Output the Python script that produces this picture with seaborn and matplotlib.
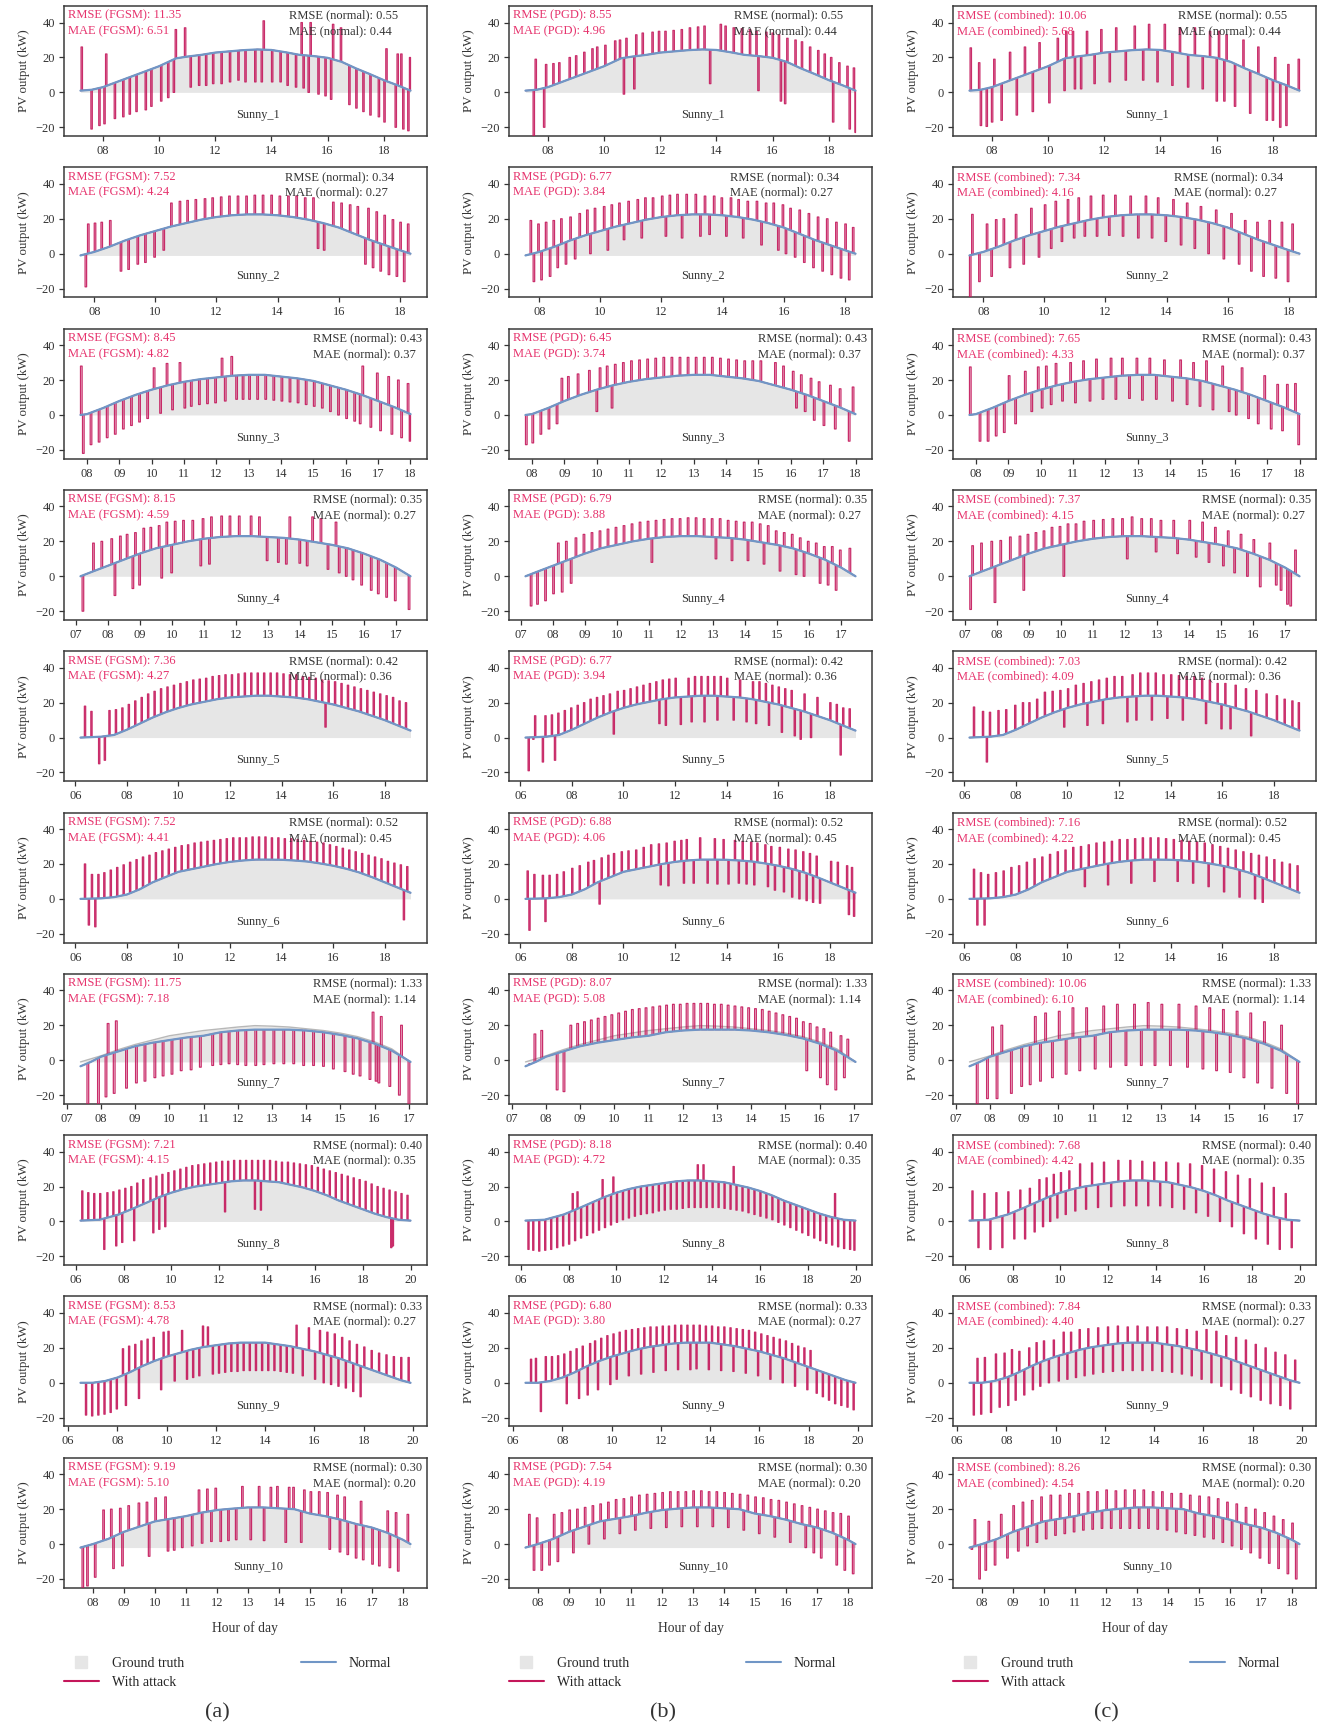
import numpy as np
import matplotlib
matplotlib.use("Agg")
import matplotlib.pyplot as plt
import seaborn as sns
from matplotlib.lines import Line2D

# ---------------- data ----------------
ROW_NAMES = ["Sunny_1", "Sunny_2", "Sunny_3", "Sunny_4", "Sunny_5",
             "Sunny_6", "Sunny_7", "Sunny_8", "Sunny_9", "Sunny_10"]
ATTACKS = ["FGSM", "PGD", "combined"]
CAPTIONS = ["(a)", "(b)", "(c)"]

RMSE_FGSM = [11.35, 7.52, 8.45, 8.15, 7.36, 7.52, 11.75, 7.21, 8.53, 9.19]
MAE_FGSM = [6.51, 4.24, 4.82, 4.59, 4.27, 4.41, 7.18, 4.15, 4.78, 5.10]
RMSE_PGD = [8.55, 6.77, 6.45, 6.79, 6.77, 6.88, 8.07, 8.18, 6.80, 7.54]
MAE_PGD = [4.96, 3.84, 3.74, 3.88, 3.94, 4.06, 5.08, 4.72, 3.80, 4.19]
RMSE_COMB = [10.06, 7.34, 7.65, 7.37, 7.03, 7.16, 10.06, 7.68, 7.84, 8.26]
MAE_COMB = [5.68, 4.16, 4.33, 4.15, 4.09, 4.22, 6.10, 4.42, 4.40, 4.54]
RMSE_NORMAL = [0.55, 0.34, 0.43, 0.35, 0.42, 0.52, 1.33, 0.40, 0.33, 0.30]
MAE_NORMAL = [0.44, 0.27, 0.37, 0.27, 0.36, 0.45, 1.14, 0.35, 0.27, 0.20]

TICKS = [[8, 10, 12, 14, 16, 18], [8, 10, 12, 14, 16, 18],
         list(range(8, 19)), list(range(7, 18)),
         [6, 8, 10, 12, 14, 16, 18], [6, 8, 10, 12, 14, 16, 18],
         list(range(7, 18)), [6, 8, 10, 12, 14, 16, 18, 20],
         [6, 8, 10, 12, 14, 16, 18, 20], list(range(8, 19))]

# normal-model prediction (hour, kW) per day
n1_t = [7.2, 7.6, 8.0, 8.5, 9.0, 9.5, 10.0, 10.6, 11.0, 11.5, 12.0, 12.5, 13.0, 13.5, 14.0, 14.5, 15.0, 15.5, 16.0, 16.5, 17.0, 17.5, 18.0, 18.5, 18.95]
n1_v = [1.0, 1.5, 3.0, 6.0, 9.0, 12.0, 15.0, 19.5, 20.5, 21.5, 22.8, 23.5, 24.2, 24.6, 24.3, 23.0, 21.5, 20.8, 19.8, 17.5, 13.8, 10.5, 7.0, 4.0, 1.0]
n2_t = [7.55, 8.0, 8.5, 9.0, 9.5, 10.0, 10.5, 11.0, 11.5, 12.0, 12.5, 13.0, 13.5, 14.0, 14.5, 15.0, 15.5, 16.0, 16.5, 17.0, 17.5, 18.0, 18.35]
n2_v = [-1.0, 1.0, 4.0, 7.5, 10.5, 13.0, 15.5, 17.5, 19.5, 21.0, 22.0, 22.5, 22.5, 22.0, 21.0, 19.5, 17.5, 15.0, 11.5, 8.0, 5.0, 2.0, 0.0]
n3_t = [7.8, 8.0, 8.5, 9.0, 9.5, 10.0, 10.5, 11.0, 11.5, 12.0, 12.5, 13.0, 13.5, 14.0, 14.5, 15.0, 15.5, 16.0, 16.5, 17.0, 17.5, 18.0]
n3_v = [0.0, 0.5, 4.0, 8.0, 11.5, 14.5, 17.0, 19.0, 20.5, 21.5, 22.5, 23.0, 23.0, 22.0, 21.0, 19.5, 17.0, 14.5, 11.5, 8.0, 4.5, 0.5]
n4_t = [7.15, 7.5, 8.0, 8.5, 9.0, 9.5, 10.0, 10.5, 11.0, 11.5, 12.0, 12.5, 13.0, 13.5, 14.0, 14.5, 15.0, 15.5, 16.0, 16.5, 17.0, 17.45]
n4_v = [0.0, 2.5, 6.0, 9.5, 13.0, 16.0, 18.0, 20.0, 21.5, 22.5, 23.0, 23.0, 22.5, 22.0, 21.0, 19.5, 18.0, 16.0, 13.0, 9.5, 5.0, 0.0]
n5_t = [6.2, 7.0, 7.5, 8.0, 8.5, 9.0, 9.5, 10.0, 10.5, 11.0, 11.5, 12.0, 12.5, 13.0, 13.5, 14.0, 14.5, 15.0, 15.5, 16.0, 16.5, 17.0, 17.5, 18.0, 18.5, 19.0]
n5_v = [0.0, 0.5, 1.5, 4.5, 8.0, 11.5, 14.5, 17.0, 19.0, 20.5, 22.0, 23.0, 23.5, 24.0, 24.0, 23.5, 23.0, 22.0, 20.5, 19.0, 17.0, 15.0, 12.5, 10.0, 7.0, 4.0]
n6_t = [6.2, 7.0, 7.5, 8.0, 8.5, 9.0, 9.5, 10.0, 10.5, 11.0, 11.5, 12.0, 12.5, 13.0, 13.5, 14.0, 14.5, 15.0, 15.5, 16.0, 16.5, 17.0, 17.5, 18.0, 18.5, 19.0]
n6_v = [0.0, 0.3, 1.0, 2.5, 5.5, 9.5, 12.5, 15.5, 17.0, 18.5, 20.0, 21.2, 22.0, 22.5, 22.5, 22.4, 22.0, 21.4, 20.3, 19.0, 17.3, 15.2, 12.5, 9.5, 6.5, 3.5]
n7_t = [7.4, 7.7, 8.0, 8.5, 9.0, 9.5, 10.0, 10.5, 11.0, 11.5, 12.0, 12.5, 13.0, 13.5, 14.0, 14.5, 15.0, 15.5, 16.0, 16.5, 16.8, 17.05]
n7_v = [-3.5, -1.0, 2.0, 5.0, 8.0, 10.0, 11.5, 13.0, 14.0, 16.0, 17.0, 17.5, 17.5, 17.5, 17.0, 16.0, 14.5, 12.5, 9.5, 5.5, 2.0, -1.0]
n8_t = [6.2, 7.0, 7.8, 8.5, 9.0, 9.5, 10.0, 10.5, 11.0, 11.5, 12.0, 12.5, 13.0, 13.5, 14.0, 14.5, 15.0, 15.5, 16.0, 16.5, 17.0, 17.5, 18.0, 18.5, 19.0, 19.5, 20.0]
n8_v = [0.5, 1.0, 4.0, 8.0, 11.0, 14.0, 16.5, 18.5, 20.0, 21.0, 22.0, 23.0, 23.5, 23.5, 23.0, 22.5, 21.0, 19.5, 17.5, 15.0, 12.0, 9.5, 7.0, 4.5, 2.5, 1.0, 0.5]
n9_t = [6.5, 7.0, 7.5, 8.0, 8.5, 9.0, 9.5, 10.0, 10.5, 11.0, 11.5, 12.0, 12.5, 13.0, 13.5, 14.0, 14.5, 15.0, 15.5, 16.0, 16.5, 17.0, 17.5, 18.0, 18.5, 19.0, 19.5, 19.9]
n9_v = [0.0, 0.0, 1.0, 3.0, 6.0, 9.5, 12.5, 15.0, 17.0, 19.0, 20.5, 21.5, 22.5, 23.0, 23.0, 23.0, 22.0, 21.0, 19.5, 18.0, 16.0, 14.0, 11.5, 9.0, 6.5, 4.0, 1.5, 0.0]
n10_t = [7.6, 8.0, 8.5, 9.0, 9.5, 10.0, 10.5, 11.0, 11.5, 12.0, 12.5, 13.0, 13.5, 14.0, 14.5, 15.0, 15.5, 16.0, 16.5, 17.0, 17.5, 18.0, 18.25]
n10_v = [-2.0, 0.0, 3.0, 7.0, 10.0, 13.0, 14.5, 16.0, 18.0, 19.5, 20.3, 21.0, 21.0, 20.5, 20.0, 17.5, 16.0, 14.0, 11.5, 9.5, 6.5, 2.5, 0.0]
# ground truth of Sunny_7 (visibly above the normal prediction)
g7_t = [7.4, 8.0, 8.5, 9.0, 9.5, 10.0, 10.5, 11.0, 11.5, 12.0, 12.5, 13.0, 13.5, 14.0, 14.5, 15.0, 15.5, 16.0, 16.5, 17.05]
g7_v = [-1.0, 2.5, 6.0, 9.0, 11.5, 14.0, 15.5, 17.0, 18.0, 19.0, 19.8, 19.5, 19.0, 18.0, 17.0, 15.5, 13.5, 10.5, 6.5, -1.0]

# attacked prediction: (hour, value reached by the short attack pulse)
a1 = [(7.22,26),(7.57,-21),(7.85,-19),(8.03,-18),(8.09,22),(8.4,-15),(8.7,-14),(8.93,-12.5),(9.17,-11),(9.5,-10),(9.7,-8),(10.05,-5),(10.3,-3),(10.5,0),(10.57,36),(10.9,37),(11.1,3),(11.4,4),(11.65,4),(11.9,5),(12.2,5),(12.5,6),(12.8,7),(13.05,6),(13.4,6),(13.63,6),(13.7,41),(14.0,6),(14.3,6),(14.55,4),(14.85,3),(15.05,40),(15.12,2.5),(15.3,0),(15.37,40),(15.65,-1),(15.9,-2),(16.1,-4),(16.17,39),(16.45,37),(16.75,-7),(17.0,-9),(17.25,-11),(17.5,-13),(17.8,-14),(18.0,-17),(18.07,25),(18.4,-20),(18.47,22),(18.6,22),(18.67,-21),(18.85,-22),(18.91,20)]
b1 = [(7.47,-25),(7.54,19),(7.84,-20),(7.91,16),(8.17,16.5),(8.38,17),(8.75,20),(8.98,21),(9.27,23),(9.56,25),(9.73,26),(10.02,27),(10.37,29.5),(10.54,30),(10.68,-1),(10.77,31),(11.05,2),(11.12,33),(11.35,34),(11.7,34.5),(11.93,35),(12.16,35),(12.45,35.5),(12.74,36),(13.03,37),(13.32,37.5),(13.55,38),(13.75,5),(14.13,39),(14.3,38),(14.59,37),(14.88,36.5),(15.17,36),(15.4,35),(15.47,1),(15.75,34.5),(15.98,34),(16.2,33),(16.27,-5),(16.42,-6.5),(16.5,31),(16.79,30),(17.02,29),(17.31,26),(17.6,24),(17.83,22),(18.06,20),(18.13,-17),(18.35,17),(18.64,15),(18.72,-21),(18.87,14),(18.93,-23)]
c1 = [(7.22,25.5),(7.52,17),(7.58,-19),(7.79,-19.5),(7.98,-17),(8.06,19),(8.32,-16),(8.62,23),(8.86,-13),(9.15,26),(9.43,-11),(9.67,28.5),(10.02,-6),(10.32,31),(10.56,1),(10.62,35),(10.86,35),(10.93,2),(11.15,2),(11.36,35),(11.63,5),(11.87,36),(12.17,6),(12.4,37),(12.74,7),(13.06,38),(13.36,7),(13.57,39),(13.87,6),(14.13,39),(14.4,4),(14.67,37),(14.96,3),(15.2,37),(15.48,2),(15.74,35),(15.98,-5),(16.06,35),(16.25,-5),(16.33,33),(16.63,-8),(16.93,30),(17.17,-12),(17.46,26),(17.76,-16),(17.98,-16),(18.06,20),(18.24,-20),(18.46,-19),(18.53,16),(18.9,19)]

a2 = [(7.7,-19),(7.78,17),(8.0,17.5),(8.22,18),(8.5,19),(8.85,-10),(9.1,-9),(9.4,-6),(9.65,-5),(9.95,-2),(10.25,2),(10.5,29),(10.78,30),(11.03,30.5),(11.3,31),(11.6,31.5),(11.85,32),(12.13,32.5),(12.4,33),(12.68,33),(12.96,33),(13.23,33.5),(13.5,33.5),(13.78,33.5),(14.05,33),(14.33,33),(14.6,33),(14.88,32),(15.15,32),(15.3,3),(15.5,2),(15.8,29.5),(16.07,29),(16.35,28),(16.6,27),(16.85,-6),(16.95,26),(17.1,-8),(17.22,24),(17.35,-10),(17.48,22),(17.62,-12),(17.75,19.5),(17.88,-13),(18.0,18),(18.12,-16),(18.25,17)]
b2 = [(7.7,19),(7.8,-16),(7.95,17),(8.05,-15),(8.2,18),(8.33,-13),(8.45,19),(8.58,-8),(8.7,20),(8.85,-6),(9.0,21),(9.15,-3),(9.3,23),(9.55,25),(9.65,0),(9.8,26),(10.1,27),(10.22,2),(10.35,28),(10.6,29),(10.75,8),(10.9,30),(11.2,31),(11.33,9),(11.45,32),(11.7,32),(12.0,33),(12.12,10),(12.25,33.5),(12.5,34),(12.65,9),(12.8,34),(13.1,34),(13.25,10),(13.4,33),(13.55,11),(13.7,33),(13.95,32),(14.1,10),(14.25,32),(14.5,31),(14.65,9),(14.8,30),(15.1,30),(15.25,5),(15.4,29),(15.65,29),(15.8,2),(15.95,28),(16.05,0),(16.2,26),(16.35,-2),(16.5,25),(16.65,-5),(16.8,23),(16.95,-8),(17.1,21),(17.25,-10),(17.4,20),(17.55,-12),(17.7,18),(17.85,-14),(18.0,17),(18.12,-15),(18.25,15)]
c2 = [(7.55,-25),(7.62,22.5),(7.85,-16),(8.1,17),(8.25,-13),(8.4,19.5),(8.65,20),(8.85,-8),(9.05,22.5),(9.3,-6),(9.55,26),(9.8,-2),(10.0,28),(10.2,3),(10.35,30),(10.55,7),(10.75,31),(10.95,9),(11.1,32),(11.3,10),(11.5,33),(11.7,10),(11.9,33.5),(12.1,10.5),(12.3,33.5),(12.55,10),(12.8,33),(13.05,9),(13.3,33),(13.5,9),(13.7,32),(13.95,7),(14.2,31),(14.45,5),(14.65,29),(14.9,3),(15.1,27),(15.35,0),(15.6,25),(15.85,-3),(16.1,23),(16.35,-6),(16.55,19),(16.75,-10),(16.95,18),(17.15,-13),(17.35,19),(17.55,-14),(17.75,18),(17.95,-16),(18.1,17)]

a3 = [(7.8,28),(7.86,-22),(8.1,-17),(8.35,-15.5),(8.6,-13),(8.85,-11),(9.1,-8),(9.35,-6),(9.6,-4),(9.85,-2),(10.05,27),(10.25,1),(10.45,29.5),(10.62,3),(10.85,30),(11.0,4),(11.2,5),(11.45,6),(11.7,6.5),(11.95,7),(12.15,32.5),(12.25,8),(12.45,33.5),(12.6,9),(12.8,9),(13.0,9),(13.25,9),(13.5,9),(13.75,8.5),(14.0,8),(14.25,7.5),(14.5,7),(14.75,6),(15.0,5),(15.25,4),(15.5,2),(15.75,0),(16.0,-2),(16.25,-3.5),(16.42,-5),(16.5,28),(16.75,-7),(16.95,24),(17.05,-9),(17.3,22),(17.4,-11),(17.6,20),(17.7,-13),(17.9,18),(17.96,-15)]
b3 = [(7.8,-17),(8.0,-16),(8.25,-11),(8.5,-8),(8.75,-5),(8.9,21),(9.1,22),(9.4,23.5),(9.75,25.5),(9.98,2),(10.08,27),(10.3,28),(10.45,4),(10.55,29),(10.8,30),(11.05,31),(11.3,31.5),(11.55,32),(11.8,32.5),(12.05,33),(12.3,33),(12.55,33),(12.8,33),(13.05,33),(13.3,33),(13.55,33),(13.8,32.5),(14.05,32),(14.3,31.5),(14.55,31),(14.8,31),(15.05,31),(15.5,30),(15.75,28),(16.05,25),(16.15,4),(16.3,23),(16.42,2),(16.6,21),(16.7,-3),(16.85,19),(17.0,-6),(17.2,17),(17.35,-8),(17.5,15),(17.78,-15),(17.9,16)]
c3 = [(7.8,27.5),(8.1,-15),(8.35,-15),(8.6,-12),(8.85,-10),(9.0,22.5),(9.2,-5),(9.5,25),(9.7,2),(9.9,27.5),(10.02,4),(10.15,28),(10.3,6),(10.45,29.5),(10.65,8),(10.9,30),(11.05,7),(11.3,31),(11.5,8),(11.7,32),(11.9,9),(12.15,32.5),(12.3,9),(12.5,32.5),(12.72,9.5),(12.95,32.5),(13.12,8.5),(13.35,32.5),(13.55,9),(13.8,31.5),(14.05,8),(14.3,31.5),(14.5,6),(14.7,30),(14.9,5),(15.1,31),(15.3,3),(15.6,28),(15.8,2),(16.02,0),(16.2,27),(16.4,-2),(16.7,-5),(16.9,22.5),(17.1,-8),(17.3,17.5),(17.45,-9),(17.6,17.5),(17.85,18),(17.95,-17)]

a4 = [(7.2,-20),(7.53,19),(7.79,20),(8.1,21.5),(8.2,-11),(8.37,23),(8.58,24),(8.76,-7),(8.84,25),(8.97,-5),(9.1,27.5),(9.32,28),(9.58,29),(9.66,-1),(9.82,31),(9.97,2),(10.08,31.5),(10.34,32),(10.63,32),(10.88,6),(10.95,33),(11.15,7),(11.21,34),(11.53,34.5),(11.79,34.5),(12.08,34.5),(12.45,34.5),(12.71,34),(12.95,9),(13.3,8),(13.55,7),(13.66,34),(13.97,7.5),(14.2,6),(14.37,34),(14.63,33),(14.85,4),(15.1,31),(15.2,2),(15.42,0),(15.63,-2),(15.9,-5),(16.2,-8),(16.42,-10),(16.68,-12),(16.95,-14),(17.38,-19)]
b4 = [(7.3,-17),(7.5,-16),(7.75,-14),(8.0,-10),(8.15,19),(8.27,-9),(8.4,20),(8.55,-4),(8.7,22),(8.95,24),(9.2,25),(9.45,26),(9.7,27),(9.95,28),(10.2,29),(10.45,30),(10.7,31),(10.95,31.5),(11.07,8),(11.2,32),(11.45,32.5),(11.7,33),(11.95,33),(12.2,33.5),(12.45,33.5),(12.7,33),(12.95,33),(13.07,10),(13.2,33),(13.45,32),(13.57,9),(13.7,31.5),(13.95,31),(14.07,9),(14.2,31),(14.45,30),(14.57,7),(14.7,29),(14.95,26),(15.07,3),(15.2,25),(15.45,24),(15.57,1),(15.7,22),(15.82,0),(15.95,20),(16.2,19),(16.32,-4),(16.45,17),(16.57,-5),(16.7,17),(16.82,-8),(16.95,15),(17.25,16)]
c4 = [(7.16,-19),(7.22,17.5),(7.5,19),(7.82,20),(7.92,-15),(8.1,20.5),(8.4,22.5),(8.7,23),(8.82,-8),(8.95,24),(9.2,25),(9.45,26),(9.7,28),(9.95,28.5),(10.07,0),(10.2,30),(10.45,30),(10.7,31.5),(11.0,32),(11.3,32.5),(11.6,33),(11.9,33),(12.05,10),(12.2,34),(12.5,33),(12.8,33),(12.95,14),(13.1,32),(13.5,32),(13.62,13),(14.0,32),(14.2,11),(14.4,31),(14.6,8),(14.8,28),(15.05,6),(15.2,26),(15.4,2),(15.6,24),(15.8,0),(16.0,21),(16.2,-6),(16.5,19),(16.7,-5),(16.85,-8),(17.05,-16),(17.15,-17),(17.3,15)]

a5 = [(6.35,18),(6.6,15),(6.9,-15),(7.12,-13),(7.3,15.5),(7.55,16),(7.8,17),(8.05,19),(8.3,21),(8.55,23),(8.8,25),(9.05,26.5),(9.3,28),(9.55,29),(9.8,30),(10.05,31),(10.3,32),(10.55,33),(10.8,33.5),(11.05,34),(11.3,35),(11.55,35.5),(11.8,36),(12.05,36),(12.3,36.5),(12.55,37),(12.8,37),(13.05,37),(13.3,37),(13.55,37),(13.8,37),(14.05,36.5),(14.3,36),(14.55,36),(14.8,35),(15.05,34.5),(15.3,34),(15.55,33),(15.68,6),(15.8,32.5),(16.05,32),(16.3,31),(16.55,30),(16.8,29),(17.05,28),(17.3,27),(17.55,26),(17.8,25),(18.05,24),(18.3,23),(18.55,21),(18.8,20)]
b5 = [(6.3,-19),(6.48,-1),(6.55,12.5),(6.85,-14),(6.95,12.5),(7.2,13),(7.32,-13),(7.45,14),(7.7,15.5),(7.95,17),(8.2,18.5),(8.45,20),(8.7,22),(8.95,23),(9.2,24),(9.45,25),(9.6,2),(9.75,26.5),(10.0,27),(10.25,28),(10.5,29),(10.75,30),(11.0,31),(11.25,32),(11.37,8),(11.5,33),(11.62,7),(11.75,33.5),(12.0,34),(12.2,7.5),(12.5,34),(12.62,9),(12.75,35),(13.0,35),(13.12,9),(13.25,35),(13.5,35),(13.62,10),(13.75,35),(14.0,34),(14.25,10),(14.5,33),(14.75,9),(15.0,32),(15.12,8),(15.25,32),(15.5,31),(15.62,7),(15.75,30),(16.0,29),(16.12,3),(16.25,28),(16.5,27),(16.62,1),(16.85,-1),(17.0,25),(17.25,0),(17.5,23),(18.0,20),(18.25,19),(18.4,-10),(18.5,17),(18.75,16.5)]
c5 = [(6.35,17.5),(6.7,15),(6.85,-14),(6.97,14.5),(7.3,15.5),(7.6,16),(7.95,18.5),(8.25,20),(8.5,20),(8.8,22),(9.1,26),(9.4,26.5),(9.7,27),(9.85,6),(10.0,28),(10.3,30),(10.6,31),(10.75,7),(10.9,32),(11.2,33),(11.35,8),(11.5,34),(11.8,35),(12.1,35),(12.3,9),(12.5,36),(12.65,10),(12.8,37),(13.1,37),(13.25,10),(13.4,37),(13.7,36),(13.85,11),(14.0,36),(14.3,35.5),(14.45,10),(14.6,35),(14.9,35),(15.2,34),(15.35,8),(15.5,33),(15.8,31),(15.95,5),(16.1,31),(16.3,5),(16.5,30),(16.9,28),(17.1,1),(17.3,27),(17.7,25),(18.1,24),(18.4,22),(18.7,21),(18.95,20)]

a6 = [(6.35,20),(6.5,-15),(6.62,14),(6.75,-16),(6.87,14),(7.1,15),(7.35,16.5),(7.6,18),(7.85,19.5),(8.1,21),(8.35,22.5),(8.6,24),(8.85,25),(9.1,26.5),(9.35,27.5),(9.6,28.5),(9.85,29.5),(10.1,30.5),(10.35,31),(10.6,32),(10.85,32.5),(11.1,33),(11.35,33.5),(11.6,34),(11.85,34.5),(12.1,35),(12.35,35),(12.6,35),(12.85,35.5),(13.1,35.5),(13.35,35.5),(13.6,35),(13.85,35),(14.1,34.5),(14.35,34.5),(14.6,34),(14.85,33.5),(15.1,33),(15.35,32.5),(15.6,32),(15.85,31),(16.1,30),(16.35,29),(16.6,28),(16.85,27),(17.1,26),(17.35,25),(17.6,24),(17.85,23),(18.1,21.5),(18.35,20.5),(18.6,19.5),(18.72,-12),(18.85,18.5)]
b6 = [(6.26,16),(6.33,-18),(6.52,14),(6.85,13.5),(6.95,-13),(7.11,13.5),(7.4,14),(7.66,15.5),(7.99,17.5),(8.28,19),(8.61,21),(8.83,22),(9.05,-3),(9.13,23.5),(9.39,25),(9.61,26),(9.91,27),(10.17,27.5),(10.47,28),(10.76,29.5),(11.05,31),(11.35,31.5),(11.42,8),(11.65,32),(11.72,7.5),(11.96,33),(12.22,33.5),(12.32,9),(12.43,34),(12.7,9),(12.95,35),(13.24,9),(13.52,34.5),(13.62,8.5),(13.86,34),(14.05,8.5),(14.3,33.5),(14.45,9),(14.6,33),(14.75,8.5),(14.93,32.5),(15.05,8),(15.17,32),(15.48,31),(15.58,7),(15.71,30),(15.85,5),(16.04,29.5),(16.2,4),(16.37,28.5),(16.52,1),(16.65,28),(16.8,0),(16.95,27),(17.08,-1),(17.21,26),(17.33,-2),(17.47,24.5),(17.6,-2.5),(18.03,21.5),(18.29,21),(18.65,19),(18.72,-9),(18.84,18),(18.92,-10)]
c6 = [(6.35,17),(6.48,-15),(6.62,15),(6.76,-15),(6.9,14),(7.2,15),(7.5,16),(7.8,18),(8.1,19),(8.4,21),(8.7,23),(9.0,24),(9.3,25.5),(9.6,27),(9.9,28),(10.2,29.5),(10.5,30),(10.65,7),(10.8,31),(11.1,32),(11.4,32.5),(11.55,8),(11.7,33),(12.0,34),(12.3,34),(12.45,9),(12.6,34.5),(12.9,35),(13.2,35),(13.35,10),(13.5,35),(13.8,34.5),(14.1,34),(14.25,10),(14.4,33.5),(14.7,33),(14.85,9),(15.0,32.5),(15.3,32),(15.45,7),(15.6,31),(15.9,30),(16.05,4),(16.2,29),(16.5,28),(16.65,1),(16.8,27),(17.1,26),(17.25,0),(17.4,25),(17.55,-2),(17.7,24),(18.0,22.5),(18.3,21),(18.6,20),(18.9,19)]

a7 = [(7.59,-26),(7.9,-26),(8.12,-21),(8.18,21),(8.36,-19),(8.42,22.5),(8.72,-16),(9.01,-13),(9.26,-12),(9.55,-10),(9.79,-9),(10.05,-8),(10.32,-6),(10.61,-5.5),(10.88,-4),(11.24,-3),(11.48,-2.5),(11.72,-2),(11.97,-2.5),(12.21,-3),(12.5,-3),(12.74,-2.5),(13.03,-2),(13.32,-2),(13.61,-2),(13.9,-3),(14.19,-3),(14.48,-3.5),(14.77,-5),(15.11,-6.5),(15.35,-8),(15.55,-9),(15.84,-11),(15.93,27.5),(16.02,-12),(16.1,-13),(16.17,25),(16.42,-15),(16.7,-20),(16.76,20),(16.98,-26)]
b7 = [(7.5,-2),(7.65,15),(7.85,17),(8.3,-17),(8.5,-18),(8.7,20),(8.9,21),(9.1,22),(9.3,23),(9.5,24),(9.7,25),(9.9,26),(10.1,27),(10.3,28),(10.5,29),(10.7,29.5),(10.9,30),(11.1,30.5),(11.3,31),(11.5,31.5),(11.7,32),(11.9,32),(12.1,32.5),(12.3,32.5),(12.5,32.5),(12.7,32.5),(12.9,32),(13.1,32),(13.3,31.5),(13.5,31),(13.7,30.5),(13.9,30),(14.1,29.5),(14.3,29),(14.5,28),(14.7,27),(14.9,26),(15.1,25),(15.3,24),(15.5,22),(15.6,-6),(15.7,21),(15.9,19),(16.0,-10),(16.1,18),(16.2,-14),(16.3,16),(16.45,-17),(16.6,14),(16.7,-10),(16.8,12)]
c7 = [(7.6,-25),(7.9,-22),(8.05,19),(8.18,-22),(8.32,20),(8.6,-19),(8.9,-15),(9.15,-14),(9.3,25),(9.45,-12),(9.6,27),(9.8,-10),(10.0,28),(10.2,-8),(10.4,30),(10.6,-6),(10.8,30),(11.05,-5),(11.3,31),(11.5,-4),(11.7,32),(11.95,-3),(12.2,32),(12.4,-3),(12.6,33),(12.8,-3),(13.0,32),(13.25,-3),(13.5,32),(13.75,-4),(14.0,31),(14.2,-5),(14.4,30),(14.6,-6),(14.8,29),(15.0,-7),(15.2,28),(15.4,-10),(15.6,27),(15.8,-13),(16.0,22),(16.22,-16),(16.5,20),(16.65,-19),(16.97,-25)]

a8 = [(6.25,17.5),(6.5,16.5),(6.75,16),(7.0,16),(7.17,-16),(7.3,16.5),(7.55,17),(7.67,-14),(7.8,18),(7.92,-12),(8.05,19),(8.3,20),(8.42,-11),(8.55,22),(8.8,24),(9.1,25),(9.22,-6.5),(9.35,26),(9.47,-4.5),(9.6,27),(9.72,-3),(9.85,28),(10.1,29),(10.35,30),(10.6,31),(10.85,32),(11.1,32.5),(11.35,33),(11.6,33.5),(11.85,34),(12.1,34.5),(12.22,5.5),(12.35,34.5),(12.6,35),(12.85,35),(13.1,35),(13.35,35),(13.47,7),(13.6,35),(13.72,6.5),(13.85,35),(14.1,35),(14.35,34.5),(14.6,34),(14.85,34),(15.1,33.5),(15.35,33),(15.6,32.5),(15.85,32),(16.1,31),(16.35,30),(16.6,29),(16.85,28),(17.1,27),(17.35,26),(17.6,25),(17.85,24),(18.1,23),(18.35,21.5),(18.6,20),(18.85,19),(19.1,18),(19.17,-15),(19.24,-14),(19.35,17),(19.6,16),(19.85,15)]
b8 = [(6.3,-16),(6.5,-16.5),(6.75,-17),(7.0,-16.5),(7.25,-16),(7.5,-15),(7.75,-14),(8.0,-13),(8.15,16),(8.25,-11),(8.35,17),(8.5,-9.5),(8.75,-8),(9.0,-6.5),(9.25,-5),(9.4,24),(9.5,-3.5),(9.75,-2),(9.85,25.5),(10.0,-0.5),(10.25,1),(10.5,2),(10.75,3),(11.0,4),(11.25,4.5),(11.5,5),(11.75,6),(12.0,6.5),(12.25,7),(12.5,7),(12.75,7.5),(13.0,8),(13.25,8),(13.38,32.5),(13.5,8),(13.62,32.5),(13.75,8),(14.0,8),(14.25,8),(14.5,7.5),(14.75,7),(14.88,31.5),(15.0,6.5),(15.25,6),(15.5,5),(15.75,4),(16.0,3),(16.25,2),(16.5,1),(16.75,-0.5),(17.0,-2),(17.25,-3.5),(17.5,-5),(17.75,-6.5),(18.0,-8),(18.25,-9.5),(18.5,-11),(18.75,-12.5),(19.0,-13.5),(19.12,16),(19.25,-14.5),(19.5,-15.5),(19.75,-16),(19.93,-16.5)]
c8 = [(6.3,17.5),(6.55,-15),(6.8,16),(7.05,-16),(7.3,16.5),(7.55,-15),(7.8,17),(8.05,-10),(8.3,18),(8.5,-10),(8.7,19),(8.9,-6),(9.1,24),(9.25,-3),(9.4,25),(9.55,0),(9.7,27),(9.85,2),(10.0,28),(10.2,4),(10.35,29),(10.6,6),(10.8,33),(11.05,7),(11.3,33.5),(11.55,8),(11.8,34),(12.1,8.5),(12.4,35),(12.65,9),(12.9,35),(13.15,9),(13.4,34.5),(13.65,9),(13.9,34),(14.15,9),(14.4,34),(14.65,8),(14.9,33.5),(15.15,7),(15.4,33),(15.65,5),(15.9,32),(16.15,3),(16.4,30),(16.65,0),(16.9,28.5),(17.15,-3),(17.4,26.5),(17.65,-7),(17.9,24.5),(18.15,-10),(18.4,22),(18.65,-13),(18.9,19.5),(19.15,-16),(19.4,16),(19.65,-15)]

a9 = [(6.7,-18.5),(6.95,-19),(7.2,-18.5),(7.45,-18),(7.7,-17),(7.95,-15),(8.2,19.5),(8.32,-13),(8.45,21),(8.7,22),(8.85,-9),(8.95,24),(9.2,25),(9.45,26),(9.75,-4),(9.85,29),(10.05,29.5),(10.3,1),(10.6,30),(10.8,2),(11.05,3),(11.3,4),(11.45,32.5),(11.65,32),(11.85,5),(12.1,5.5),(12.35,6),(12.6,6.5),(12.85,6.5),(13.1,7),(13.35,7),(13.6,7),(13.85,7),(14.1,7),(14.35,7),(14.6,6.5),(14.85,6),(15.1,5.5),(15.25,33),(15.5,4),(15.75,31.5),(16.0,2),(16.2,30),(16.35,0),(16.5,29),(16.65,-1),(16.8,28),(16.95,-2),(17.1,26),(17.25,-3),(17.4,24),(17.55,-5),(17.7,22),(17.85,-8),(18.0,20.5),(18.3,18.5),(18.6,17),(18.9,16),(19.2,15),(19.5,14.5),(19.8,14.5)]
b9 = [(6.7,13.5),(6.9,14),(7.1,-16.5),(7.3,15),(7.55,15),(7.8,15.5),(8.05,16.5),(8.15,-12),(8.3,18),(8.55,19.5),(8.65,-9),(8.8,21),(9.0,-7),(9.1,22.5),(9.3,24),(9.42,-4),(9.55,25.5),(9.8,27),(9.92,-1),(10.05,28),(10.18,2),(10.3,29),(10.55,30),(10.67,4),(10.8,30.5),(11.05,31),(11.17,5),(11.3,31.5),(11.55,32),(11.67,6),(11.8,32),(12.05,32.5),(12.17,7),(12.3,32.5),(12.55,33),(12.67,7.5),(12.8,33),(13.05,33),(13.17,7.5),(13.3,33),(13.42,8),(13.55,33),(13.8,32.5),(13.92,7.5),(14.05,32.5),(14.3,32),(14.42,7),(14.55,32),(14.8,31.5),(14.92,6.5),(15.05,31),(15.3,30.5),(15.42,5.5),(15.55,30),(15.8,29),(15.92,4),(16.05,28),(16.3,27),(16.42,2),(16.55,26),(16.8,25),(16.92,0),(17.05,24),(17.3,22.5),(17.42,-2),(17.55,21),(17.8,20),(17.92,-4),(18.05,18.5),(18.3,-6),(18.55,-8),(18.8,-10),(19.05,-12),(19.3,-13),(19.55,-14),(19.8,-15.5)]
c9 = [(6.65,-18.5),(6.8,14),(6.95,-18),(7.1,14.5),(7.35,-17),(7.55,16.5),(7.7,-14),(7.9,17),(8.05,-13),(8.2,19),(8.35,-10),(8.5,18),(8.7,-7),(8.9,20),(9.05,-4),(9.2,23),(9.35,-2),(9.5,24),(9.7,0),(9.9,24.5),(10.1,1),(10.3,29),(10.45,2),(10.6,29),(10.8,3),(10.95,30.5),(11.15,4),(11.3,31),(11.5,5),(11.7,31.5),(11.9,6),(12.1,32),(12.3,6.5),(12.5,32.5),(12.7,7),(12.9,32),(13.1,7),(13.3,32.5),(13.5,7),(13.7,32),(13.9,7),(14.1,32),(14.3,6.5),(14.5,32),(14.7,6),(14.9,31),(15.1,5),(15.3,30.5),(15.5,4),(15.7,29.5),(15.9,2),(16.1,30.5),(16.3,0),(16.5,29.5),(16.7,-2),(16.9,27),(17.1,-4),(17.3,26),(17.5,-6),(17.7,24.5),(17.9,-8),(18.1,22),(18.3,-10),(18.5,20),(18.7,-12),(18.9,17.5),(19.1,-13),(19.3,16),(19.5,-15),(19.7,13)]

a10 = [(7.65,-26),(7.8,-24),(8.05,-19),(8.32,19.5),(8.57,20),(8.64,-14),(8.86,20.5),(8.93,-12.5),(9.13,22),(9.46,23.5),(9.72,24),(9.79,-7),(10.0,26.5),(10.32,27),(10.4,-4),(10.6,-3.5),(10.86,-2),(11.18,-1),(11.4,31),(11.5,0.5),(11.67,31.5),(11.8,1.5),(11.94,32),(12.1,1.5),(12.35,2),(12.6,2.5),(12.8,33),(13.07,2.5),(13.34,33),(13.5,2),(13.72,32.5),(13.93,33),(14.2,1),(14.31,32.5),(14.45,32.5),(14.7,1),(14.8,31),(15.01,30),(15.28,30),(15.55,29.5),(15.62,-3),(15.87,28),(15.95,-4.5),(16.1,27),(16.2,-6),(16.47,-8),(16.63,24.5),(16.7,-9),(17.0,-11.5),(17.22,-12.5),(17.49,19),(17.56,-13.5),(17.76,18),(17.83,-15.5),(18.14,17)]
b10 = [(7.7,17),(7.85,-15),(7.95,15),(8.1,-15),(8.35,-12),(8.5,17),(8.62,-10),(8.75,18),(9.0,19.5),(9.12,-5),(9.25,20),(9.5,21),(9.62,0),(9.75,22),(10.0,23),(10.12,3),(10.25,24),(10.5,25.5),(10.62,6),(10.75,26),(11.0,27),(11.12,8),(11.25,28),(11.5,28.5),(11.62,9),(11.75,29),(12.0,29.5),(12.12,9.5),(12.25,30),(12.5,30),(12.62,10),(12.75,30),(13.0,30.5),(13.12,10),(13.25,30.5),(13.5,30),(13.62,10),(13.75,30),(14.0,29.5),(14.12,9.5),(14.25,29),(14.5,28.5),(14.62,8),(14.75,28),(15.0,27),(15.12,6),(15.25,26.5),(15.5,25.5),(15.62,4),(15.75,25),(16.0,24),(16.12,1),(16.25,23),(16.5,22),(16.62,-2),(16.75,21),(16.88,-5),(17.0,20),(17.12,-8),(17.25,19),(17.5,18),(17.62,-12),(17.75,17.5),(17.88,-15),(18.0,16),(18.15,-17)]
c10 = [(7.65,-3),(7.75,14),(7.9,-20),(8.1,-15),(8.2,13),(8.4,-12),(8.6,17),(8.8,-8),(9.0,22),(9.15,-4),(9.3,24),(9.45,-1),(9.6,25),(9.75,1),(9.9,27),(10.05,3),(10.2,28),(10.35,5),(10.5,28),(10.65,6),(10.8,29),(10.95,7),(11.1,29),(11.25,8),(11.4,30),(11.55,8.5),(11.7,30),(11.85,9),(12.0,31),(12.15,9),(12.3,30.5),(12.45,9),(12.6,31),(12.75,9),(12.9,31),(13.05,9),(13.2,31),(13.35,9),(13.5,30),(13.65,8.5),(13.8,30),(13.95,8),(14.1,29),(14.25,7),(14.4,29),(14.55,6),(14.7,28),(14.85,5),(15.0,27.5),(15.15,4),(15.3,27),(15.45,3),(15.6,26),(15.75,1),(15.9,24),(16.05,-1),(16.2,23),(16.35,-3),(16.5,21),(16.65,-5),(16.8,20),(16.95,-8),(17.1,18),(17.25,-11),(17.4,16),(17.55,-14),(17.7,14),(17.85,-17),(18.0,12),(18.12,-20)]

# ---------------- assembly ----------------
NORMALS = [(n1_t, n1_v), (n2_t, n2_v), (n3_t, n3_v), (n4_t, n4_v), (n5_t, n5_v),
           (n6_t, n6_v), (n7_t, n7_v), (n8_t, n8_v), (n9_t, n9_v), (n10_t, n10_v)]
TRUTHS = list(NORMALS)
TRUTHS[6] = (g7_t, g7_v)
SPIKES = [[a1, b1, c1], [a2, b2, c2], [a3, b3, c3], [a4, b4, c4], [a5, b5, c5],
          [a6, b6, c6], [a7, b7, c7], [a8, b8, c8], [a9, b9, c9], [a10, b10, c10]]
RMSE_ATT = [RMSE_FGSM, RMSE_PGD, RMSE_COMB]
MAE_ATT = [MAE_FGSM, MAE_PGD, MAE_COMB]

PULSE_W = 0.05


def attacked_series(kt, kv, spikes):
    kt = np.asarray(kt, float)
    kv = np.asarray(kv, float)
    xs, ys = [], []
    i = 0
    prev = -np.inf
    for t, v in sorted(spikes):
        t0 = max(t, prev + 0.012, kt[0])
        if t0 >= kt[-1]:
            break
        t1 = min(t0 + PULSE_W, kt[-1])
        while i < len(kt) and kt[i] < t0:
            xs.append(kt[i]); ys.append(kv[i]); i += 1
        xs += [t0, t0, t1, t1]
        ys += [np.interp(t0, kt, kv), v, v, np.interp(t1, kt, kv)]
        while i < len(kt) and kt[i] <= t1:
            i += 1
        prev = t1
    while i < len(kt):
        xs.append(kt[i]); ys.append(kv[i]); i += 1
    return np.array(xs), np.array(ys)


# ---------------- style ----------------
sns.set_style("ticks")
plt.rcParams["font.family"] = ["Liberation Serif", "DejaVu Serif"]
plt.rcParams["axes.edgecolor"] = "#3a3a3a"
plt.rcParams["axes.linewidth"] = 1.1
plt.rcParams["xtick.color"] = "#333333"
plt.rcParams["ytick.color"] = "#333333"

ATTACK_C = "#c4165a"
NORMAL_C = "#7096c6"
GT_FILL = "#e6e6e6"
GT_LINE = "#b8b8b8"
PINK_TXT = "#e6336d"
DARK_TXT = "#333333"

W, H = 1320, 1730
fig = plt.figure(figsize=(W / 100, H / 100), dpi=100)
fig.patch.set_facecolor("white")

COL_LEFT = [64, 509, 953]
AX_W = 363
AX_H = 130
ROW_TOP0 = 6
ROW_PITCH = 161.3
NORM_TXT_X = [0.62, 0.61, 0.685, 0.685, 0.62, 0.62, 0.685, 0.685, 0.685, 0.685]

for r in range(10):
    top = ROW_TOP0 + r * ROW_PITCH
    kt, kv = NORMALS[r]
    gt, gv = TRUTHS[r]
    base = min(0.0, min(gv))
    for c in range(3):
        ax = fig.add_axes([COL_LEFT[c] / W, 1 - (top + AX_H) / H, AX_W / W, AX_H / H])
        ax.fill_between(gt, gv, base, color=GT_FILL, lw=0, zorder=1)
        sns.lineplot(x=gt, y=gv, ax=ax, color=GT_LINE, lw=1.0, zorder=2,
                     estimator=None, sort=False, legend=False)
        xs, ys = attacked_series(kt, kv, SPIKES[r][c])
        sns.lineplot(x=xs, y=ys, ax=ax, color=ATTACK_C, lw=0.9, alpha=0.9, zorder=3,
                     estimator=None, sort=False, legend=False)
        sns.lineplot(x=kt, y=kv, ax=ax, color=NORMAL_C, lw=1.6, zorder=4,
                     estimator=None, sort=False, legend=False)

        ax.set_ylim(-25, 49.5)
        ax.set_yticks([-20, 0, 20, 40])
        ax.set_xticks(TICKS[r])
        ax.set_xticklabels([f"{h:02d}" for h in TICKS[r]])
        ax.tick_params(labelsize=9, length=3.5, width=0.9, pad=3)
        ax.set_ylabel("PV output (kW)", fontsize=9.3, color=DARK_TXT, labelpad=4)
        ax.set_xlabel("")
        for s in ax.spines.values():
            s.set_visible(True)

        name = ATTACKS[c]
        ax.text(0.012, 0.925, f"RMSE ({name}): {RMSE_ATT[c][r]:.2f}", transform=ax.transAxes,
                color=PINK_TXT, fontsize=9, va="center", ha="left", zorder=6)
        ax.text(0.012, 0.805, f"MAE ({name}): {MAE_ATT[c][r]:.2f}", transform=ax.transAxes,
                color=PINK_TXT, fontsize=9, va="center", ha="left", zorder=6)
        ax.text(NORM_TXT_X[r], 0.925, f"RMSE (normal): {RMSE_NORMAL[r]:.2f}", transform=ax.transAxes,
                color=DARK_TXT, fontsize=9, va="center", ha="left", zorder=6)
        ax.text(NORM_TXT_X[r], 0.805, f"MAE (normal): {MAE_NORMAL[r]:.2f}", transform=ax.transAxes,
                color=DARK_TXT, fontsize=9, va="center", ha="left", zorder=6)
        ax.text(0.535, 0.16, ROW_NAMES[r], transform=ax.transAxes, color=DARK_TXT,
                fontsize=8.8, ha="center", va="center", zorder=6)

        if r == 9:
            ax.set_xlabel("Hour of day", fontsize=9.8, color=DARK_TXT, labelpad=9)
            handles = [
                Line2D([], [], marker="s", ls="none", color=GT_FILL, markersize=8,
                       label="Ground truth"),
                Line2D([], [], color=ATTACK_C, lw=1.5, label="With attack"),
                Line2D([], [], color=NORMAL_C, lw=1.5, label="Normal"),
            ]
            ax.legend(handles=handles, loc="upper left", bbox_to_anchor=(0.0, -0.53),
                      ncol=2, frameon=False, fontsize=10, handlelength=2.5,
                      handletextpad=0.95, columnspacing=8.4, labelspacing=0.45,
                      borderpad=0, borderaxespad=0)
            cx = COL_LEFT[c] + AX_W / 2 - 28
            fig.text(cx / W, 1 - 1713 / H, CAPTIONS[c], fontsize=16, ha="center",
                     va="center", color=DARK_TXT)

fig.savefig("out.png", dpi=100, facecolor="white")
